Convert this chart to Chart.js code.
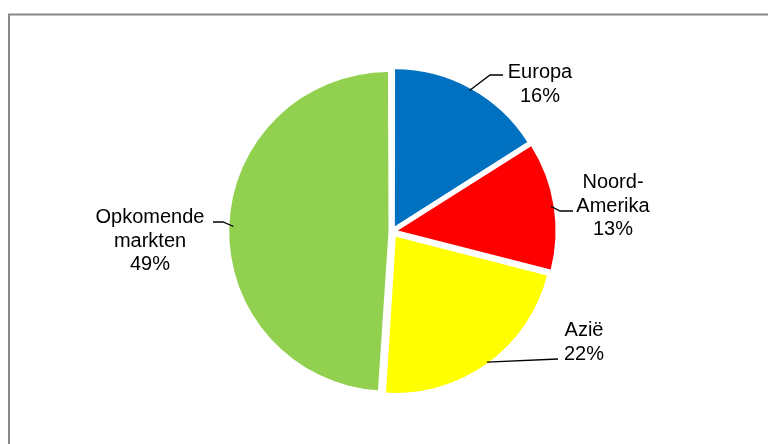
<!DOCTYPE html>
<html>
<head>
<meta charset="utf-8">
<script src="https://cdn.jsdelivr.net/npm/chart.js@4.4.1/dist/chart.umd.min.js"></script>
<style>
  html, body { margin: 0; padding: 0; background: #fff; }
  #wrap { width: 768px; height: 444px; }
</style>
</head>
<body>
<div id="wrap"><canvas id="regioChart" width="768" height="444"></canvas></div>
<script>
// data
const regios = ["Europa", "Noord-Amerika", "Azië", "Opkomende markten"];
const aandelen = [16, 13, 22, 49];
const kleuren = ["#0070C0", "#FF0000", "#FFFF00", "#92D050"];

// label tekst (regels) per segment
const labelRegels = [
  ["Europa", "16%"],
  ["Noord-", "Amerika", "13%"],
  ["Azië", "22%"],
  ["Opkomende", "markten", "49%"]
];

// plaats van labels en knik/eindpunt van de verbindingslijnen
const labelPlaats = [
  { x: 540, y: 78, knik: [490, 75], eind: [503, 75] },
  { x: 613, y: 188, knik: [560, 211], eind: [573, 211] },
  { x: 584, y: 336, knik: null, eind: [558, 359] },
  { x: 150, y: 223, knik: [223, 222], eind: [213, 222] }
];

// kader + labels met lijnen
const kaderEnLabels = {
  id: "kaderEnLabels",
  beforeDraw(chart) {
    const ctx = chart.ctx;
    ctx.save();
    ctx.strokeStyle = "#878787";
    ctx.lineWidth = 2;
    ctx.strokeRect(9, 14.5, 820, 520);
    ctx.restore();
  },
  afterDraw(chart) {
    const ctx = chart.ctx;
    const meta = chart.getDatasetMeta(0);
    ctx.save();
    meta.data.forEach((arc, i) => {
      const p = arc.getProps(["x", "y", "startAngle", "endAngle", "outerRadius"], true);
      const verschuiving = (arc.options.offset || 0) / 4;
      const mid = (p.startAngle + p.endAngle) / 2;
      const sx = p.x + Math.cos(mid) * (p.outerRadius + verschuiving - 1);
      const sy = p.y + Math.sin(mid) * (p.outerRadius + verschuiving - 1);
      const lp = labelPlaats[i];

      ctx.strokeStyle = "#000";
      ctx.lineWidth = 1.3;
      ctx.beginPath();
      ctx.moveTo(sx, sy);
      if (lp.knik) ctx.lineTo(lp.knik[0], lp.knik[1]);
      ctx.lineTo(lp.eind[0], lp.eind[1]);
      ctx.stroke();

      ctx.fillStyle = "#000";
      ctx.font = "20px 'Liberation Sans', Arial, sans-serif";
      ctx.textAlign = "center";
      ctx.textBaseline = "alphabetic";
      labelRegels[i].forEach((regel, r) => {
        ctx.fillText(regel, lp.x, lp.y + r * 23.5);
      });
    });
    ctx.restore();
  }
};

const ctx = document.getElementById("regioChart").getContext("2d");
const regioChart = new Chart(ctx, {
  type: "pie",
  data: {
    labels: regios,
    datasets: [{
      data: aandelen,
      backgroundColor: kleuren,
      borderWidth: 0,
      offset: [24, 24, 26, 14]
    }]
  },
  options: {
    responsive: false,
    animation: false,
    events: [],
    radius: 156,
    layout: { padding: { left: 16, right: 0, top: 19, bottom: 0 } },
    plugins: {
      legend: { display: false },
      tooltip: { enabled: false }
    }
  },
  plugins: [kaderEnLabels]
});
</script>
</body>
</html>
